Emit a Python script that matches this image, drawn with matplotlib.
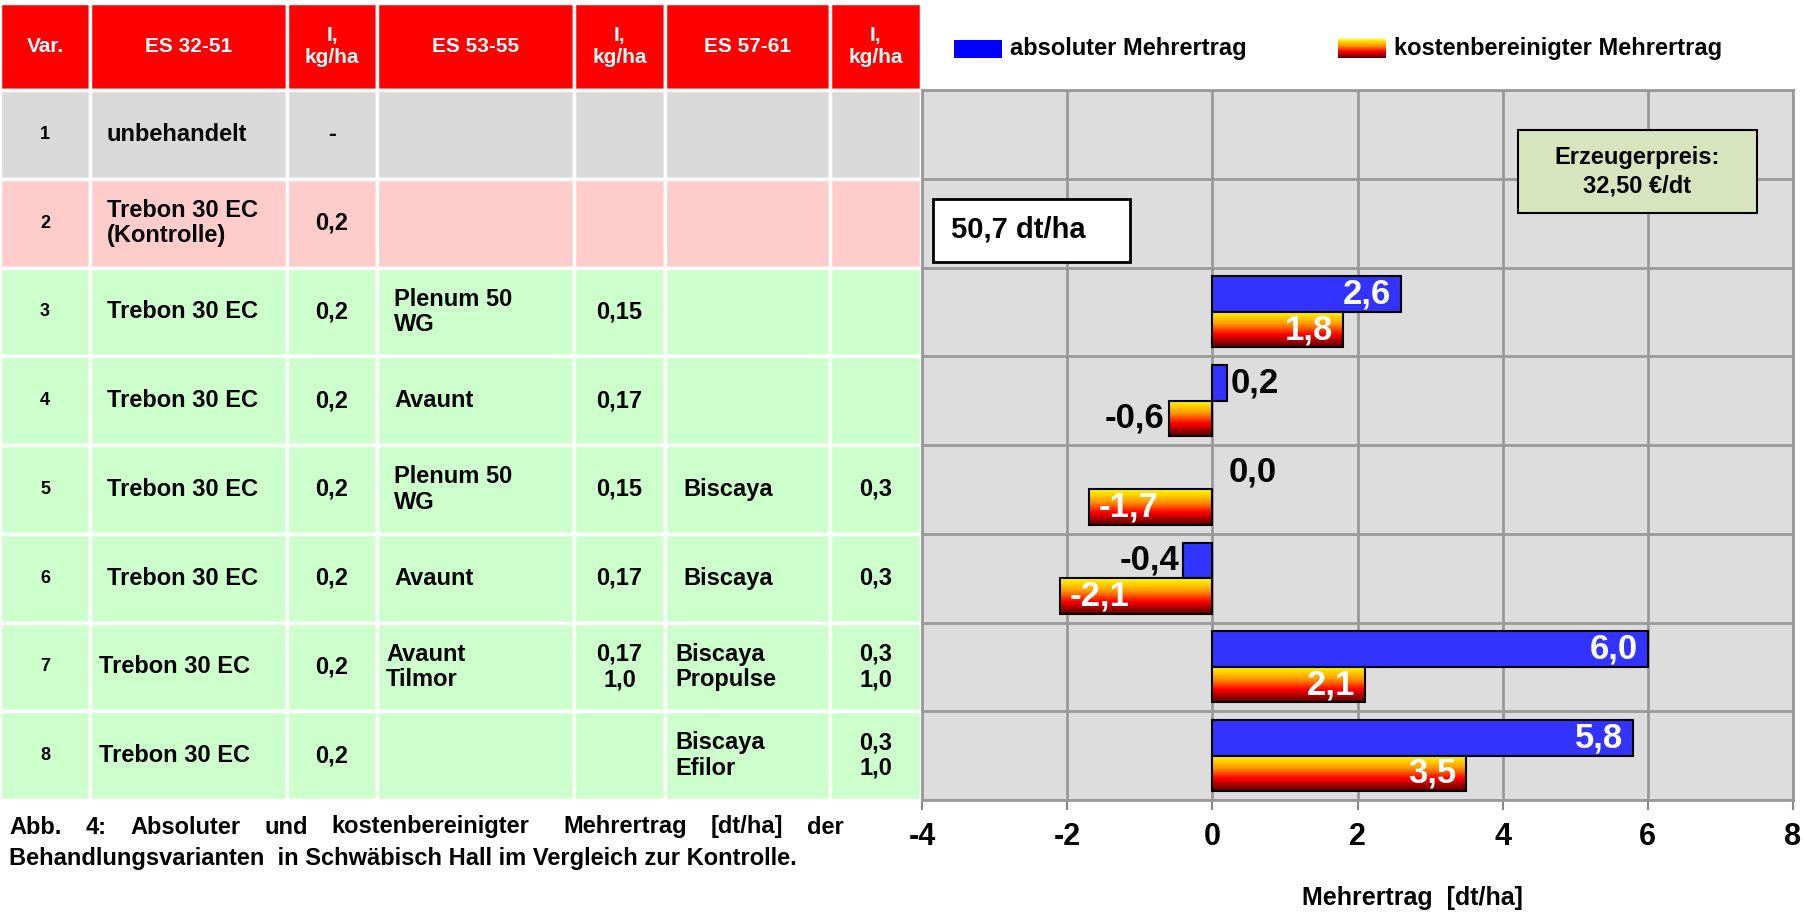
import matplotlib
matplotlib.use('Agg')
import matplotlib.pyplot as plt
import numpy as np
from matplotlib.colors import LinearSegmentedColormap
from matplotlib.patches import Rectangle

plt.rcParams['font.family'] = ['Liberation Sans', 'DejaVu Sans']
plt.rcParams['font.weight'] = 'bold'
plt.rcParams['axes.unicode_minus'] = False

# --- Daten ---
varianten = ['1', '2', '3', '4', '5', '6', '7', '8']
absolut = [np.nan, np.nan, 2.6, 0.2, 0.0, -0.4, 6.0, 5.8]
kostenbereinigt = [np.nan, np.nan, 1.8, -0.6, -1.7, -2.1, 2.1, 3.5]

header = ['Var.', 'ES 32-51', 'I,\nkg/ha', 'ES 53-55', 'I,\nkg/ha', 'ES 57-61', 'I,\nkg/ha']
es_32_51 = ['unbehandelt', 'Trebon 30 EC\n(Kontrolle)', 'Trebon 30 EC', 'Trebon 30 EC',
            'Trebon 30 EC', 'Trebon 30 EC', 'Trebon 30 EC', 'Trebon 30 EC']
menge_1 = ['-', '0,2', '0,2', '0,2', '0,2', '0,2', '0,2', '0,2']
es_53_55 = ['', '', 'Plenum 50\nWG', 'Avaunt', 'Plenum 50\nWG', 'Avaunt', 'Avaunt\nTilmor', '']
menge_2 = ['', '', '0,15', '0,17', '0,15', '0,17', '0,17\n1,0', '']
es_57_61 = ['', '', '', '', 'Biscaya', 'Biscaya', 'Biscaya\nPropulse', 'Biscaya\nEfilor']
menge_3 = ['', '', '', '', '0,3', '0,3', '0,3\n1,0', '0,3\n1,0']

kontrolle_text = '50,7 dt/ha'
preis_text = 'Erzeugerpreis:\n32,50 €/dt'
legend_labels = ['absoluter Mehrertrag', 'kostenbereinigter Mehrertrag']
caption_1 = ['Abb.', '4:', 'Absoluter', 'und', 'kostenbereinigter', 'Mehrertrag', '[dt/ha]', 'der']
caption_2 = 'Behandlungsvarianten  in Schwäbisch Hall im Vergleich zur Kontrolle.'
xlabel = 'Mehrertrag  [dt/ha]'

# --- Layout ---
W, H = 1806, 916
fig = plt.figure(figsize=(W / 100, H / 100), dpi=100)

# background axes in pixel coordinates (table, legend, caption)
bg = fig.add_axes([0, 0, 1, 1])
bg.set_xlim(0, W)
bg.set_ylim(H, 0)
bg.axis('off')

grad_cmap = LinearSegmentedColormap.from_list(
    'ertrag', [(0, '#ffff00'), (0.35, '#ff9900'), (0.65, '#ff0000'), (1.0, '#5a0000')])
grad = np.linspace(0, 1, 64).reshape(-1, 1)

# table
col_edges = [0, 90, 287, 377, 574, 665, 830, 921]
head_top, head_bot, table_bot = 3, 90, 800
row_h = (table_bot - head_bot) / len(varianten)
row_colors = ['#d9d9d9', '#ffcccc'] + ['#ccffcc'] * 6
col_align = ['center', 'left', 'center', 'left', 'center', 'left', 'center']
left_pad = [0, 17, 0, 17, 0, 18, 0]

for c in range(len(header)):
    x0, x1 = col_edges[c], col_edges[c + 1]
    bg.add_patch(Rectangle((x0, head_top), x1 - x0, head_bot - head_top,
                           facecolor='#ff0000', edgecolor='white', lw=2.5))
    bg.text((x0 + x1) / 2, (head_top + head_bot) / 2, header[c], color='white',
            fontsize=15, ha='center', va='center', linespacing=1.15)

columns = [varianten, es_32_51, menge_1, es_53_55, menge_2, es_57_61, menge_3]
for r in range(len(varianten)):
    y0 = head_bot + r * row_h
    for c, col in enumerate(columns):
        x0, x1 = col_edges[c], col_edges[c + 1]
        bg.add_patch(Rectangle((x0, y0), x1 - x0, row_h,
                               facecolor=row_colors[r], edgecolor='white', lw=2.5))
        txt = col[r]
        if not txt:
            continue
        fs = 13 if c == 0 else 17
        if col_align[c] == 'center':
            bg.text((x0 + x1) / 2, y0 + row_h / 2, txt, fontsize=fs,
                    ha='center', va='center', linespacing=1.15)
        else:
            shift = 8 if r >= 6 else 0
            bg.text(x0 + left_pad[c] - shift, y0 + row_h / 2, txt, fontsize=fs,
                    ha='left', va='center', linespacing=1.15)

# legend
bg.add_patch(Rectangle((954, 40), 48, 18, facecolor='#0000ff', edgecolor='none'))
bg.text(1010, 49, legend_labels[0], fontsize=17, ha='left', va='center')
bg.imshow(grad, cmap=grad_cmap, extent=[1338, 1386, 58, 39], aspect='auto', origin='upper')
bg.text(1394, 49, legend_labels[1], fontsize=17, ha='left', va='center')
bg.set_xlim(0, W)
bg.set_ylim(H, 0)

# caption, first line justified
renderer = fig.canvas.get_renderer()
words = [bg.text(0, 827, w, fontsize=17, ha='left', va='center') for w in caption_1]
widths = [t.get_window_extent(renderer).width for t in words]
weights = [1, 1, 1, 1, 1.4, 1, 1]
gap = (844 - 9 - sum(widths)) / sum(weights)
x = 9
for t, w, g in zip(words, widths, weights + [0]):
    t.set_x(x)
    x += w + g * gap
bg.text(9, 858, caption_2, fontsize=17, ha='left', va='center')

# --- Balkendiagramm ---
ax = fig.add_axes([922 / W, (H - 800) / H, (1793 - 922) / W, (800 - 90) / H])
ax.set_facecolor('#dddddd')
ypos = np.arange(len(varianten))
bh = 0.4

blue = ax.barh(ypos - 0.2, absolut, height=bh, color='#3333ff', edgecolor='black', lw=1.5, zorder=3)
orange = ax.barh(ypos + 0.2, kostenbereinigt, height=bh, facecolor='none', edgecolor='black',
                 lw=1.5, zorder=4)
for bar, v in zip(blue, absolut):
    if v == 0:
        bar.set_linewidth(0)
for bar, v in zip(orange, kostenbereinigt):
    if np.isnan(v):
        continue
    x0, x1 = sorted([bar.get_x(), bar.get_x() + bar.get_width()])
    y0 = bar.get_y()
    ax.imshow(grad, cmap=grad_cmap, extent=[x0, x1, y0 + bar.get_height(), y0],
              aspect='auto', origin='upper', zorder=3)


def label_bars(bars, values):
    for bar, v in zip(bars, values):
        if np.isnan(v):
            continue
        yc = bar.get_y() + bar.get_height() / 2
        txt = f'{v:.1f}'.replace('.', ',')
        if abs(v) >= 1:
            dx = -7 if v > 0 else 7
            ax.annotate(txt, (v, yc), xytext=(dx, 0), textcoords='offset points',
                        ha='right' if v > 0 else 'left', va='center',
                        color='white', fontsize=25, zorder=5)
        else:
            if v == 0:
                dx = 12
            else:
                dx = 3 if v > 0 else -3
            ax.annotate(txt, (v, yc), xytext=(dx, 0), textcoords='offset points',
                        ha='left' if v >= 0 else 'right', va='center',
                        color='black', fontsize=25, zorder=5)


label_bars(blue, absolut)
label_bars(orange, kostenbereinigt)

ax.set_xlim(-4, 8)
ax.set_ylim(len(varianten) - 0.5, -0.5)
ax.set_xticks(np.arange(-4, 9, 2))
ax.set_yticks([])
ax.set_yticks(np.arange(-0.5, len(varianten), 1), minor=True)
ax.tick_params(axis='y', which='both', length=0)
ax.tick_params(axis='x', length=7, width=1.5, color='#888888', pad=9, labelsize=22)
for lbl in ax.get_xticklabels():
    lbl.set_fontweight('heavy')
ax.grid(True, axis='x', which='major', color='#999999', lw=2)
ax.grid(True, axis='y', which='minor', color='#999999', lw=2)
ax.set_axisbelow(True)
for s in ax.spines.values():
    s.set_color('#999999')
    s.set_linewidth(2)

# boxes inside the chart
fig.patches.append(Rectangle((933 / W, 1 - 262 / H), (1130 - 933) / W, (262 - 199) / H,
                             transform=fig.transFigure, facecolor='white', edgecolor='black',
                             lw=2, zorder=6))
fig.text(951 / W, 1 - 230 / H, kontrolle_text, fontsize=21, ha='left', va='center', zorder=7)
fig.patches.append(Rectangle((1518 / W, 1 - 213 / H), (1757 - 1518) / W, (213 - 130) / H,
                             transform=fig.transFigure, facecolor='#d7e4bd', edgecolor='black',
                             lw=1.5, zorder=6))
fig.text(1637 / W, 1 - 172 / H, preis_text, fontsize=17, ha='center', va='center',
         linespacing=1.3, zorder=7)

fig.text(1412 / W, 1 - 898 / H, xlabel, fontsize=18, ha='center', va='center')

fig.savefig('out.png', dpi=100)
